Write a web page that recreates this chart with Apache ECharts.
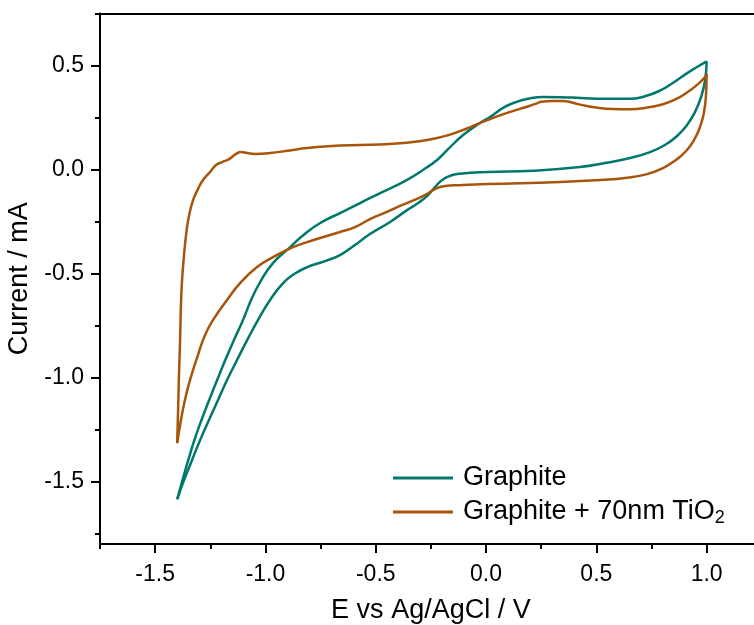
<!DOCTYPE html>
<html>
<head>
<meta charset="utf-8">
<script src="https://cdn.jsdelivr.net/npm/echarts@6/dist/echarts.min.js"></script>
<style>
  html, body { margin: 0; padding: 0; background: #fff; }
  #chart { width: 754px; height: 625px; }
</style>
</head>
<body>
<div id="chart"></div>
<script>
// Cyclic voltammograms, potential E (V vs Ag/AgCl) against current (mA).
const seriesNames = ['Graphite', 'Graphite + 70nm TiO2'];

// Graphite: anodic sweep (-1.4 V -> 1.0 V)
const graphiteAnodic = [
  [-1.40, -1.585], [-1.376, -1.493], [-1.350, -1.397], [-1.322, -1.300], [-1.290, -1.204],
  [-1.255, -1.108], [-1.219, -1.012], [-1.182, -0.916], [-1.143, -0.820], [-1.102, -0.724],
  [-1.065, -0.627], [-1.024, -0.541], [-0.966, -0.450], [-0.888, -0.373], [-0.811, -0.300],
  [-0.743, -0.252], [-0.662, -0.209], [-0.571, -0.161], [-0.480, -0.113], [-0.422, -0.084],
  [-0.358, -0.050], [-0.286, -0.002], [-0.222, 0.046], [-0.172, 0.098], [-0.104, 0.166],
  [-0.027, 0.224], [0.018, 0.252], [0.077, 0.296], [0.130, 0.322], [0.190, 0.340],
  [0.260, 0.349], [0.340, 0.348], [0.430, 0.344], [0.540, 0.340], [0.650, 0.340],
  [0.720, 0.352], [0.790, 0.380], [0.850, 0.418], [0.910, 0.462], [0.960, 0.495], [1.00, 0.52]
];
// Graphite: cathodic sweep (1.0 V -> -1.4 V)
const graphiteCathodic = [
  [1.00, 0.52], [0.993, 0.430], [0.975, 0.349], [0.947, 0.276], [0.911, 0.214],
  [0.866, 0.161], [0.811, 0.118], [0.743, 0.084], [0.653, 0.055], [0.539, 0.031],
  [0.426, 0.012], [0.213, -0.006], [0.005, -0.012], [-0.118, -0.020], [-0.163, -0.030],
  [-0.199, -0.050], [-0.231, -0.084], [-0.263, -0.123], [-0.308, -0.161], [-0.358, -0.195],
  [-0.435, -0.252], [-0.526, -0.310], [-0.594, -0.363], [-0.662, -0.411], [-0.730, -0.440],
  [-0.811, -0.469], [-0.866, -0.500], [-0.920, -0.546], [-0.979, -0.627], [-1.034, -0.724],
  [-1.083, -0.820], [-1.129, -0.916], [-1.174, -1.012], [-1.215, -1.108], [-1.256, -1.204],
  [-1.296, -1.300], [-1.333, -1.397], [-1.369, -1.493], [-1.40, -1.585]
];
// Graphite + 70nm TiO2: anodic sweep
const tio2Anodic = [
  [-1.40, -1.315], [-1.396, -1.156], [-1.392, -0.988], [-1.387, -0.820], [-1.383, -0.651],
  [-1.378, -0.531], [-1.369, -0.411], [-1.360, -0.315], [-1.346, -0.219], [-1.328, -0.147],
  [-1.306, -0.094], [-1.283, -0.050], [-1.251, -0.012], [-1.224, 0.022], [-1.197, 0.036],
  [-1.165, 0.050], [-1.133, 0.075], [-1.111, 0.084], [-1.083, 0.079], [-1.047, 0.075],
  [-0.979, 0.079], [-0.890, 0.092], [-0.811, 0.103], [-0.662, 0.116], [-0.480, 0.120],
  [-0.350, 0.130], [-0.254, 0.144], [-0.163, 0.168], [-0.090, 0.196], [-0.027, 0.224],
  [0.095, 0.272], [0.186, 0.302], [0.231, 0.318], [0.250, 0.326], [0.300, 0.330],
  [0.349, 0.329], [0.426, 0.312], [0.500, 0.298], [0.576, 0.291], [0.650, 0.290],
  [0.720, 0.296], [0.802, 0.314], [0.860, 0.338], [0.911, 0.370], [0.960, 0.410],
  [0.993, 0.445], [1.00, 0.46]
];
// Graphite + 70nm TiO2: cathodic sweep
const tio2Cathodic = [
  [1.00, 0.46], [0.997, 0.358], [0.988, 0.276], [0.970, 0.204], [0.943, 0.142],
  [0.907, 0.089], [0.861, 0.046], [0.802, 0.007], [0.730, -0.022], [0.630, -0.041],
  [0.517, -0.050], [0.335, -0.060], [0.005, -0.070], [-0.118, -0.075], [-0.186, -0.079],
  [-0.231, -0.094], [-0.277, -0.123], [-0.335, -0.151], [-0.390, -0.175], [-0.449, -0.204],
  [-0.526, -0.238], [-0.594, -0.277], [-0.662, -0.300], [-0.752, -0.329], [-0.811, -0.349],
  [-0.875, -0.373], [-0.966, -0.421], [-1.038, -0.469], [-1.115, -0.546], [-1.174, -0.627],
  [-1.238, -0.724], [-1.274, -0.796], [-1.306, -0.892], [-1.342, -1.012], [-1.365, -1.108],
  [-1.383, -1.204], [-1.40, -1.315]
];

// Tick positions
const xMajorTicks = [-1.5, -1.0, -0.5, 0.0, 0.5, 1.0];
const xMinorTicks = [-1.75, -1.25, -0.75, -0.25, 0.25, 0.75, 1.25];
const yMajorTicks = [-1.5, -1.0, -0.5, 0.0, 0.5];
const yMinorTicks = [-1.75, -1.25, -0.75, -0.25, 0.25, 0.75];

const colors = ['#00786c', '#a8540a'];
const FONT = '"Liberation Sans", Arial, Helvetica, sans-serif';
const X_MIN = -1.75, X_MAX = 1.25, Y_MIN = -1.8, Y_MAX = 0.75;
const axisColor = '#000';

function baseX(extra) {
  return Object.assign({
    type: 'value', min: X_MIN, max: X_MAX, gridIndex: 0,
    splitLine: { show: false }
  }, extra);
}
function baseY(extra) {
  return Object.assign({
    type: 'value', min: Y_MIN, max: Y_MAX, gridIndex: 0,
    splitLine: { show: false }
  }, extra);
}

const fmt = v => Number(v).toFixed(1);

const option = {
  backgroundColor: '#fff',
  animation: false,
  grid: { left: 100, top: 13.5, right: -7.8, bottom: 81, containLabel: false, outerBoundsMode: 'none' },
  xAxis: [
    baseX({
      position: 'bottom',
      name: 'E vs Ag/AgCl / V',
      nameLocation: 'middle',
      nameGap: 53,
      nameTextStyle: { fontFamily: FONT, fontSize: 27, color: '#000' },
      axisLine: { show: true, onZero: false, lineStyle: { color: axisColor, width: 2 } },
      axisTick: { show: true, inside: false, length: 9, customValues: xMajorTicks,
                  lineStyle: { color: axisColor, width: 2 } },
      axisLabel: { show: true, customValues: xMajorTicks, formatter: fmt, margin: 19,
                   fontFamily: FONT, fontSize: 23, color: '#000' }
    }),
    baseX({
      position: 'bottom',
      axisLine: { show: false, onZero: false },
      axisTick: { show: true, inside: false, length: 5, customValues: xMinorTicks,
                  lineStyle: { color: axisColor, width: 2 } },
      axisLabel: { show: false }
    }),
    baseX({
      position: 'top',
      axisLine: { show: true, onZero: false, lineStyle: { color: axisColor, width: 2 } },
      axisTick: { show: false },
      axisLabel: { show: false }
    })
  ],
  yAxis: [
    baseY({
      position: 'left',
      name: 'Current / mA',
      nameLocation: 'middle',
      nameGap: 61,
      nameTextStyle: { fontFamily: FONT, fontSize: 27, color: '#000' },
      axisLine: { show: true, onZero: false, lineStyle: { color: axisColor, width: 2 } },
      axisTick: { show: true, inside: false, length: 9, customValues: yMajorTicks,
                  lineStyle: { color: axisColor, width: 2 } },
      axisLabel: { show: true, customValues: yMajorTicks, formatter: fmt, margin: 16,
                   fontFamily: FONT, fontSize: 23, color: '#000' }
    }),
    baseY({
      position: 'left',
      axisLine: { show: false, onZero: false },
      axisTick: { show: true, inside: false, length: 5, customValues: yMinorTicks,
                  lineStyle: { color: axisColor, width: 2 } },
      axisLabel: { show: false }
    })
  ],
  legend: [
    {
      data: [seriesNames[0]],
      left: 393, top: 463, padding: 0,
      icon: 'rect', itemWidth: 60, itemHeight: 3,
      textStyle: { fontFamily: FONT, fontSize: 27, lineHeight: 30, color: '#000', padding: [0, 0, 0, 5] }
    },
    {
      data: [seriesNames[1]],
      left: 393, top: 497, padding: 0,
      icon: 'rect', itemWidth: 60, itemHeight: 3,
      formatter: () => 'Graphite + 70nm TiO{sub|2}',
      textStyle: {
        fontFamily: FONT, fontSize: 27, lineHeight: 30, color: '#000', padding: [0, 0, 0, 5],
        rich: { sub: { fontFamily: FONT, fontSize: 18, lineHeight: 13, verticalAlign: 'bottom', color: '#000' } }
      }
    }
  ],
  series: [
    { name: seriesNames[0], data: graphiteAnodic, color: colors[0] },
    { name: seriesNames[0], data: graphiteCathodic, color: colors[0] },
    { name: seriesNames[1], data: tio2Anodic, color: colors[1] },
    { name: seriesNames[1], data: tio2Cathodic, color: colors[1] }
  ].map(s => Object.assign({
    type: 'line', xAxisIndex: 0, yAxisIndex: 0,
    showSymbol: false, symbol: 'none', smooth: 0.5,
    lineStyle: { width: 2.5 },
    emphasis: { disabled: true }
  }, s))
};

const chart = echarts.init(document.getElementById('chart'), null, { renderer: 'canvas' });
chart.setOption(option);
</script>
</body>
</html>
